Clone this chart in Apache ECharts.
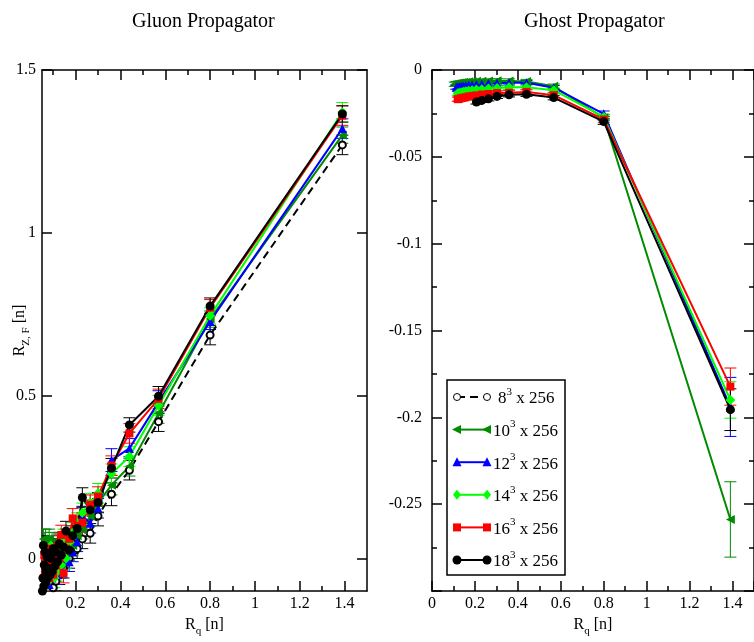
<!DOCTYPE html>
<html><head><meta charset="utf-8">
<script src="https://cdn.jsdelivr.net/npm/echarts@6/dist/echarts.min.js"></script>
<style>html,body{margin:0;padding:0;background:#fff}#c{width:754px;height:642px}</style>
</head><body><div id="c"></div>
<script>
// ---------- DATA: [x = R_q, y = R, error] ----------
const gluon8 = [[1.39,1.27,0.03],[0.80,0.686,0.03],[0.57,0.42,0.03],[0.44,0.271,0.03],[0.36,0.197,0.035],[0.30,0.13,0.03],[0.265,0.077,0.03],[0.23,0.06,0.03],[0.207,0.03,0.03],[0.187,0.045,0.03],[0.171,0.0,0.03],[0.157,0.02,0.03],[0.146,-0.03,0.03],[0.136,0.01,0.03],[0.127,-0.05,0.03],[0.119,-0.02,0.03],[0.112,-0.07,0.03],[0.106,0.0,0.03],[0.1,-0.09,0.03]];
const gluon10 = [[1.39,1.30,0.025],[0.80,0.735,0.025],[0.57,0.445,0.03],[0.44,0.283,0.03],[0.36,0.225,0.03],[0.30,0.17,0.03],[0.265,0.13,0.03],[0.23,0.09,0.03],[0.207,0.07,0.03],[0.187,0.04,0.03],[0.171,0.06,0.03],[0.157,0.01,0.03],[0.146,0.03,0.03],[0.136,-0.02,0.03],[0.127,0.05,0.03],[0.119,0.0,0.03],[0.112,-0.04,0.03],[0.106,0.02,0.03],[0.1,-0.01,0.03],[0.095,0.05,0.03],[0.09,-0.05,0.03],[0.086,0.01,0.03],[0.082,0.06,0.03],[0.078,-0.03,0.03],[0.075,0.04,0.03],[0.072,-0.06,0.03],[0.069,0.02,0.03],[0.066,0.06,0.03],[0.063,-0.02,0.03],[0.06,0.05,0.03],[0.058,-0.07,0.03],[0.056,0.06,0.03]];
const gluon12 = [[1.39,1.32,0.03],[0.80,0.728,0.025],[0.57,0.48,0.035],[0.44,0.338,0.03],[0.36,0.302,0.035],[0.30,0.154,0.03],[0.265,0.108,0.03],[0.23,0.13,0.03],[0.207,0.051,0.03],[0.187,0.02,0.03],[0.171,-0.01,0.03],[0.157,0.06,0.03],[0.146,0.0,0.03],[0.136,-0.03,0.03],[0.127,0.03,0.03],[0.119,-0.05,0.03],[0.112,0.01,0.03],[0.106,-0.02,0.03],[0.1,0.04,0.03],[0.095,-0.06,0.03],[0.09,0.0,0.03],[0.086,-0.03,0.03],[0.082,-0.08,0.03],[0.078,0.02,0.03],[0.075,-0.04,0.03],[0.072,-0.07,0.03]];
const gluon14 = [[1.39,1.37,0.03],[0.80,0.745,0.025],[0.57,0.47,0.03],[0.44,0.313,0.03],[0.36,0.26,0.03],[0.30,0.20,0.03],[0.265,0.17,0.03],[0.23,0.14,0.03],[0.207,0.11,0.03],[0.187,0.08,0.03],[0.171,0.05,0.03],[0.157,0.0,0.03],[0.146,0.06,0.03],[0.136,-0.02,0.03],[0.127,0.03,0.03],[0.119,-0.04,0.03],[0.112,0.01,0.03],[0.106,-0.06,0.03],[0.1,0.02,0.03],[0.095,-0.02,0.03],[0.09,0.04,0.03],[0.086,-0.05,0.03],[0.082,0.0,0.03],[0.078,-0.07,0.03],[0.075,0.03,0.03],[0.072,-0.03,0.03],[0.069,0.01,0.03]];
const gluon16 = [[1.39,1.36,0.03],[0.80,0.77,0.025],[0.57,0.49,0.03],[0.44,0.384,0.03],[0.36,0.285,0.03],[0.30,0.19,0.03],[0.265,0.165,0.03],[0.23,0.11,0.03],[0.207,0.10,0.03],[0.187,0.123,0.03],[0.171,0.06,0.03],[0.157,0.03,0.03],[0.146,-0.045,0.03],[0.136,0.072,0.03],[0.127,0.0,0.03],[0.119,0.04,0.03],[0.112,-0.02,0.03],[0.106,0.02,0.03],[0.1,-0.05,0.03],[0.095,0.01,0.03],[0.09,-0.03,0.03],[0.086,0.03,0.03],[0.082,-0.06,0.03],[0.078,-0.01,0.03],[0.075,0.02,0.03],[0.072,-0.04,0.03],[0.069,-0.07,0.03],[0.066,0.0,0.03],[0.063,-0.05,0.03],[0.06,0.01,0.03]];
const gluon18 = [[1.39,1.365,0.025],[0.80,0.775,0.025],[0.57,0.498,0.03],[0.44,0.41,0.022],[0.36,0.277,0.03],[0.30,0.172,0.03],[0.265,0.149,0.03],[0.23,0.187,0.03],[0.207,0.092,0.03],[0.187,0.07,0.03],[0.171,0.025,0.03],[0.157,0.084,0.03],[0.146,0.035,0.03],[0.136,0.01,0.03],[0.127,0.045,0.03],[0.119,-0.01,0.03],[0.112,0.02,0.03],[0.106,-0.025,0.03],[0.1,0.03,0.03],[0.095,-0.04,0.03],[0.09,0.0,0.03],[0.086,-0.05,0.03],[0.082,0.015,0.03],[0.078,-0.03,0.03],[0.075,-0.06,0.03],[0.072,0.005,0.03],[0.069,-0.04,0.03],[0.066,-0.075,0.03],[0.063,0.02,0.03],[0.06,-0.02,0.03],[0.058,-0.085,0.03],[0.056,0.04,0.03],[0.054,-0.06,0.03],[0.052,-0.1,0.03]];

const ghost10 = [[0.106,-0.0082,0.0012],[0.113,-0.0079,0.0012],[0.12,-0.0078,0.0012],[0.127,-0.0075,0.0012],[0.136,-0.0074,0.0012],[0.146,-0.0071,0.0012],[0.157,-0.007,0.0012],[0.171,-0.0067,0.0012],[0.187,-0.0067,0.0012],[0.207,-0.0065,0.0012],[0.232,-0.0065,0.0012],[0.263,-0.0063,0.0012],[0.303,-0.0062,0.0012],[0.359,-0.0063,0.0012],[0.44,-0.0066,0.0012],[0.567,-0.0094,0.0013],[0.80,-0.0275,0.0016],[1.39,-0.2588,0.0217]];
const ghost12 = [[0.113,-0.0099,0.0012],[0.12,-0.0097,0.0012],[0.127,-0.0096,0.0012],[0.136,-0.0093,0.0012],[0.146,-0.0092,0.0012],[0.157,-0.0089,0.0012],[0.171,-0.0087,0.0012],[0.187,-0.0086,0.0012],[0.207,-0.0083,0.0012],[0.232,-0.0081,0.0012],[0.263,-0.0078,0.0012],[0.303,-0.0076,0.0012],[0.359,-0.0074,0.0012],[0.44,-0.0073,0.0012],[0.567,-0.0102,0.0013],[0.80,-0.0252,0.0016],[1.39,-0.194,0.017]];
const ghost14 = [[0.12,-0.0134,0.0012],[0.127,-0.0131,0.0012],[0.136,-0.0129,0.0012],[0.146,-0.0125,0.0012],[0.157,-0.0123,0.0012],[0.171,-0.0119,0.0012],[0.187,-0.0117,0.0012],[0.207,-0.0113,0.0012],[0.232,-0.0111,0.0012],[0.263,-0.0106,0.0012],[0.303,-0.0104,0.0012],[0.359,-0.0100,0.0012],[0.44,-0.0099,0.0012],[0.567,-0.0116,0.0013],[0.80,-0.0270,0.0016],[1.39,-0.190,0.0105]];
const ghost16 = [[0.12,-0.0168,0.0012],[0.127,-0.0166,0.0012],[0.136,-0.0162,0.0012],[0.146,-0.0160,0.0012],[0.157,-0.0157,0.0012],[0.171,-0.0152,0.0012],[0.187,-0.0149,0.0012],[0.207,-0.0146,0.0012],[0.232,-0.0141,0.0012],[0.263,-0.0138,0.0012],[0.303,-0.0133,0.0012],[0.359,-0.0131,0.0012],[0.44,-0.0126,0.0012],[0.567,-0.0145,0.0013],[0.80,-0.0285,0.0016],[1.39,-0.1823,0.0107]];
const ghost18 = [[0.207,-0.0184,0.0012],[0.232,-0.0175,0.0012],[0.263,-0.0166,0.0012],[0.303,-0.0152,0.0012],[0.359,-0.0143,0.0012],[0.44,-0.0140,0.0012],[0.567,-0.0159,0.0013],[0.80,-0.0297,0.0016],[1.39,-0.1956,0.012]];

const latticeSizes = ['8', '10', '12', '14', '16', '18'];
const gluonXMajor = [0.2, 0.4, 0.6, 0.8, 1.0, 1.2, 1.4];
const gluonXMinor = [0.1, 0.3, 0.5, 0.7, 0.9, 1.1, 1.3];
const gluonYMajor = [0, 0.5, 1, 1.5];
const titles = ['Gluon Propagator', 'Ghost Propagator'];

// ---------- STYLES ----------
const FONT = '"Liberation Serif", "Times New Roman", Times, serif';
const sets = [
  {color:'#000000', symbol:'emptyCircle', size:7, rotate:0, dash:[8,5], gluon:gluon8, ghost:null},
  {color:'#008b00', symbol:'triangle', size:9, rotate:90, gluon:gluon10, ghost:ghost10},
  {color:'#0000ff', symbol:'triangle', size:9, rotate:0, gluon:gluon12, ghost:ghost12},
  {color:'#00ff00', symbol:'diamond', size:10, rotate:0, gluon:gluon14, ghost:ghost14},
  {color:'#ff0000', symbol:'rect', size:8, rotate:0, gluon:gluon16, ghost:ghost16},
  {color:'#000000', symbol:'circle', size:9, rotate:0, gluon:gluon18, ghost:ghost18}
];

const richText = {
  b:{fontSize:16, fontFamily:FONT, color:'#000', lineHeight:18, verticalAlign:'top'},
  s:{fontSize:11, fontFamily:FONT, color:'#000', lineHeight:11, verticalAlign:'top', padding:[9,0,0,0]}
};
const richSup = {
  b:{fontSize:17, fontFamily:FONT, color:'#000', lineHeight:19, verticalAlign:'bottom'},
  p:{fontSize:11, fontFamily:FONT, color:'#000', lineHeight:11, verticalAlign:'bottom', padding:[0,0,10,0]}
};

function axisBase(gridIndex, min, max, position) {
  return {type:'value', gridIndex, min, max, position, splitLine:{show:false},
    axisLine:{show:true, onZero:false, lineStyle:{color:'#000', width:1.5}},
    axisTick:{show:false}, axisLabel:{show:false}, minorTick:{show:false}, minorSplitLine:{show:false}};
}
function ticks(vals, len) {
  return {show:true, inside:true, length:len, customValues:vals, lineStyle:{color:'#000', width:1.5}};
}
const labelStyle = {show:true, color:'#000', fontSize:16, fontFamily:FONT};

const xAxes = [
  Object.assign(axisBase(0, 0.05, 1.5, 'bottom'), {
    axisTick:ticks(gluonXMajor, 10),
    axisLabel:Object.assign({customValues:gluonXMajor, margin:5}, labelStyle),
    name:'{b|R}{s|q}{b| [n]}', nameLocation:'middle', nameGap:26, nameMoveOverlap:false, nameTextStyle:{rich:richText}
  }),
  Object.assign(axisBase(0, 0.05, 1.5, 'bottom'), {axisLine:{show:false, onZero:false}, axisTick:ticks(gluonXMinor, 5)}),
  Object.assign(axisBase(0, 0.05, 1.5, 'top'), {axisTick:ticks(gluonXMajor, 10)}),
  Object.assign(axisBase(0, 0.05, 1.5, 'top'), {axisLine:{show:false, onZero:false}, axisTick:ticks(gluonXMinor, 5)}),
  Object.assign(axisBase(1, 0, 1.5, 'bottom'), {
    interval:0.2,
    axisTick:{show:true, inside:true, length:10, lineStyle:{color:'#000', width:1.5}},
    minorTick:{show:true, splitNumber:2, length:5, lineStyle:{color:'#000', width:1.5}},
    axisLabel:Object.assign({margin:5, showMaxLabel:false}, labelStyle),
    name:'{b|R}{s|q}{b| [n]}', nameLocation:'middle', nameGap:26, nameMoveOverlap:false, nameTextStyle:{rich:richText}
  }),
  Object.assign(axisBase(1, 0, 1.5, 'top'), {
    interval:0.2,
    axisTick:{show:true, inside:true, length:10, lineStyle:{color:'#000', width:1.5}},
    minorTick:{show:true, splitNumber:2, length:5, lineStyle:{color:'#000', width:1.5}}
  })
];
const yAxes = [
  Object.assign(axisBase(0, -0.1, 1.5, 'left'), {
    axisTick:ticks(gluonYMajor, 10),
    axisLabel:Object.assign({customValues:gluonYMajor, margin:6}, labelStyle),
    name:'{b|R}{s|Z, F}{b| [n]}', nameLocation:'middle', nameRotate:90, nameGap:12, nameMoveOverlap:false, nameTextStyle:{rich:richText}
  }),
  Object.assign(axisBase(0, -0.1, 1.5, 'right'), {axisTick:ticks(gluonYMajor, 10)}),
  Object.assign(axisBase(1, -0.3, 0, 'left'), {
    interval:0.05,
    axisTick:{show:true, inside:true, length:10, lineStyle:{color:'#000', width:1.5}},
    minorTick:{show:true, splitNumber:2, length:5, lineStyle:{color:'#000', width:1.5}},
    axisLabel:Object.assign({margin:10, showMinLabel:false}, labelStyle)
  }),
  Object.assign(axisBase(1, -0.3, 0, 'right'), {
    interval:0.05,
    axisTick:{show:true, inside:true, length:10, lineStyle:{color:'#000', width:1.5}},
    minorTick:{show:true, splitNumber:2, length:5, lineStyle:{color:'#000', width:1.5}}
  })
];

function errSeries(data, color, xi, yi) {
  return {
    type:'custom', xAxisIndex:xi, yAxisIndex:yi, clip:true, silent:true,
    data:data.map(d => [d[0], d[1] - d[2], d[1] + d[2]]),
    encode:{x:0, y:[1, 2]},
    renderItem:(params, api) => {
      const lo = api.coord([api.value(0), api.value(1)]);
      const hi = api.coord([api.value(0), api.value(2)]);
      const w = 6, st = {stroke:color, lineWidth:1};
      return {type:'group', children:[
        {type:'line', shape:{x1:lo[0], y1:lo[1], x2:hi[0], y2:hi[1]}, style:st},
        {type:'line', shape:{x1:lo[0]-w, y1:lo[1], x2:lo[0]+w, y2:lo[1]}, style:st},
        {type:'line', shape:{x1:hi[0]-w, y1:hi[1], x2:hi[0]+w, y2:hi[1]}, style:st}
      ]};
    }
  };
}
function lineSeries(data, s, xi, yi, name) {
  return {
    type:'line', name, xAxisIndex:xi, yAxisIndex:yi,
    data:data.map(d => [d[0], d[1]]),
    symbol:s.symbol, symbolSize:s.size, symbolRotate:s.rotate,
    lineStyle:{color:s.color, width:2, type:s.dash || 'solid'},
    itemStyle:{color:s.color, borderWidth:s.symbol === 'emptyCircle' ? 1 : 0},
    emphasis:{disabled:true}
  };
}

const series = [];
sets.forEach((s, i) => {
  const nm = latticeSizes[i] + '³ x 256';
  series.push(errSeries(s.gluon, s.color, 0, 0));
  series.push(lineSeries(s.gluon, s, 0, 0, nm));
  if (s.ghost) {
    series.push(errSeries(s.ghost, s.color, 4, 2));
    series.push(lineSeries(s.ghost, s, 4, 2, nm));
  }
});

// ---------- LEGEND (drawn in the ghost panel) ----------
function markerEl(s, cx, cy) {
  const c = s.color;
  if (s.symbol === 'emptyCircle') return {type:'circle', shape:{cx, cy, r:3.5}, style:{fill:'#fff', stroke:c, lineWidth:1}};
  if (s.symbol === 'circle') return {type:'circle', shape:{cx, cy, r:4.5}, style:{fill:c}};
  if (s.symbol === 'rect') return {type:'rect', shape:{x:cx-4, y:cy-4, width:8, height:8}, style:{fill:c}};
  if (s.symbol === 'diamond') return {type:'polygon', shape:{points:[[cx,cy-5],[cx+4,cy],[cx,cy+5],[cx-4,cy]]}, style:{fill:c}};
  if (s.rotate === 90) return {type:'polygon', shape:{points:[[cx-5,cy],[cx+4,cy-4.5],[cx+4,cy+4.5]]}, style:{fill:c}};
  return {type:'polygon', shape:{points:[[cx,cy-5],[cx-4.5,cy+4],[cx+4.5,cy+4]]}, style:{fill:c}};
}
const legendChildren = [{type:'rect', shape:{x:0, y:0, width:118, height:195}, style:{fill:'#fff', stroke:'#000', lineWidth:1.5}}];
sets.forEach((s, i) => {
  const cy = 17 + i * 32.6;
  legendChildren.push({type:'line', shape:{x1:10, y1:cy, x2:40, y2:cy}, style:{stroke:s.color, lineWidth:2, lineDash:s.dash || null}});
  legendChildren.push(markerEl(s, 10, cy));
  legendChildren.push(markerEl(s, 40, cy));
  legendChildren.push({type:'text', x:(latticeSizes[i].length === 1 ? 51 : 46), y:cy + 1,
    style:{text:'{b|' + latticeSizes[i] + '}{p|3}{b| x 256}', rich:richSup, verticalAlign:'middle', textAlign:'left', fill:'#000'}});
});

const titleStyle = {fontFamily:FONT, fontSize:20, fontWeight:'normal', color:'#000'};
const option = {
  animation:false,
  backgroundColor:'#fff',
  title:[
    {text:titles[0], left:127, top:7, textStyle:titleStyle},
    {text:titles[1], left:519, top:7, textStyle:titleStyle}
  ],
  grid:[
    {left:42, top:70, width:325, height:523, containLabel:false},
    {left:432, top:70, width:325, height:523, containLabel:false}
  ],
  xAxis:xAxes,
  yAxis:yAxes,
  series,
  graphic:[{type:'group', x:447, y:380, z:100, children:legendChildren}]
};
const chart = echarts.init(document.getElementById('c'), null, {renderer:'canvas'});
chart.setOption(option);
</script>
</body></html>
